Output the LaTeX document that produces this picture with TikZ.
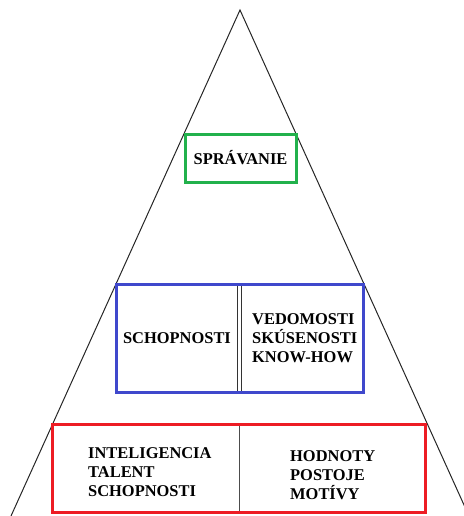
\documentclass[tikz,border=0pt]{standalone}
\usepackage{fontspec}
\setmainfont{Liberation Serif}
\usepackage{tikz}
\usetikzlibrary{positioning}

\definecolor{boxgreen}{RGB}{34,177,76}
\definecolor{boxblue}{RGB}{63,72,204}
\definecolor{boxred}{RGB}{237,28,36}

\tikzset{
	lbl/.style={font=\fontsize{16.5}{19}\selectfont\bfseries, inner sep=0pt},
	frame/.style={line width=3bp},
	cell/.style={draw=black!80, line width=0.9bp}
}

\begin{document}
\begin{tikzpicture}
	\useasboundingbox (0bp,0bp) rectangle (464bp,516bp);
	\clip (0bp,0bp) rectangle (464bp,516bp);

	% pyramid
	\coordinate (top)  at (240bp,506bp);
	\coordinate (botL) at (11bp,0bp);
	\coordinate (botR) at (469bp,0bp);
	\draw [black!85, line width=1bp] (botL) -- (top) -- (botR);

	% top level
	\node[lbl] (SPR) at (240.5bp,358bp) {SPRÁVANIE};
	\draw [frame, boxgreen] (185bp,333bp) rectangle (296bp,381bp);

	% middle level
	\fill [white] (116bp,123bp) rectangle (363bp,231bp);
	\draw [cell] (116bp,123bp) rectangle (237bp,231bp);
	\draw [cell] (241bp,123bp) rectangle (363bp,231bp);
	\node[lbl] (SCH) at (177bp,178bp) {SCHOPNOSTI};
	\node[lbl, align=left, anchor=west] (VED) at (252bp,178bp) {VEDOMOSTI\\SKÚSENOSTI\\KNOW-HOW};
	\draw [frame, boxblue] (116bp,123bp) rectangle (363bp,231bp);

	% bottom level
	\fill [white] (52bp,3bp) rectangle (425bp,91bp);
	\draw [black!70, line width=1bp] (239bp,3bp) -- (239bp,91bp);
	\node[lbl, align=left, anchor=west] (INT) at (88bp,44bp) {INTELIGENCIA\\TALENT\\SCHOPNOSTI};
	\node[lbl, align=left, anchor=west] (HOD) at (290bp,41bp) {HODNOTY\\POSTOJE\\MOTÍVY};
	\draw [frame, boxred] (52bp,3bp) rectangle (425bp,91bp);
\end{tikzpicture}
\end{document}
